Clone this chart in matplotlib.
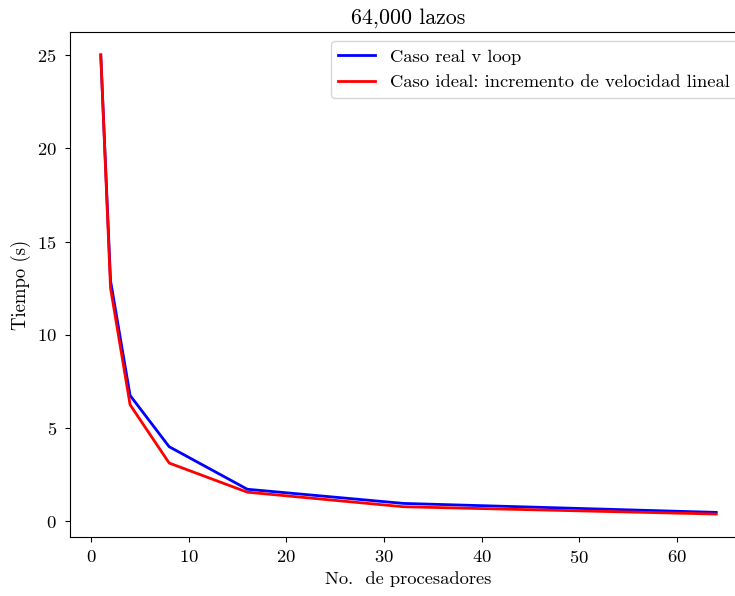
import matplotlib
matplotlib.use("Agg")
import matplotlib.pyplot as plt

procesadores = [1, 2, 4, 8, 16, 32, 64]
tiempo_real = [25.0, 12.9, 6.75, 4.0, 1.72, 0.96, 0.48]
tiempo_ideal = [25.0, 12.5, 6.25, 3.125, 1.5625, 0.78125, 0.390625]

plt.rcParams["font.family"] = ["cmr10", "DejaVu Serif"]
plt.rcParams["mathtext.fontset"] = "cm"
plt.rcParams["axes.formatter.use_mathtext"] = True
plt.rcParams["font.size"] = 13.4
plt.rcParams["xtick.major.pad"] = 5
plt.rcParams["ytick.major.pad"] = 6

fig = plt.figure(figsize=(7.35, 5.96), dpi=100)
ax = fig.add_axes([70 / 735, 59 / 596, 677 / 735, 505 / 596])

ax.plot(procesadores, tiempo_real, color="blue", lw=2, label="Caso real v loop")
ax.plot(procesadores, tiempo_ideal, color="red", lw=2,
        label="Caso ideal: incremento de velocidad lineal")
ax.set_title("64,000 lazos", fontsize=15.8)
ax.set_xlabel("No.  de procesadores", fontsize=13.3)
ax.set_ylabel("Tiempo (s)", fontsize=13.5)
ax.legend(loc="upper right")

fig.savefig("out.png", dpi=100)
